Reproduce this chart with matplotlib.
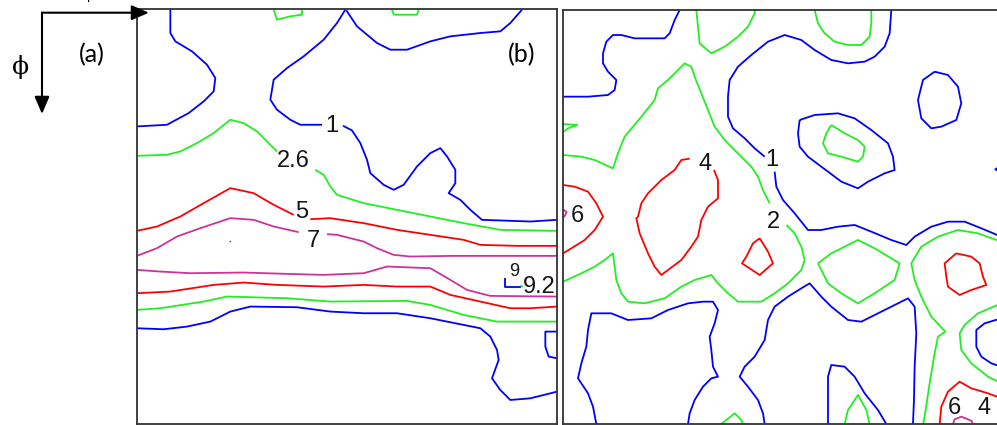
import matplotlib
matplotlib.use("Agg")
import matplotlib.pyplot as plt
from matplotlib.patches import FancyArrowPatch

# ---------------- data (grid units, y grows downward) ----------------
# Panel (a)
A_LEVEL_1 = [
    [(120,28),(120,100),(135,125),(185,155),(230,195),(255,235),(250,275),(220,305),(175,340),(110,375),(20,380)],
    [(645,30),(620,70),(580,120),(520,170),(470,205),(430,240),(420,300),(440,330),(480,360),(510,375),(575,375)],
    [(638,378),(665,392),(690,430),(710,480),(720,520),(760,555),(790,570),(820,555),(860,500),(900,460),(930,445),
     (950,470),(975,510),(975,550),(955,580),(990,600),(1020,630),(1055,660),(1200,665),(1280,660)],
    [(648,32),(680,80),(740,130),(780,150),(830,150),(900,125),(960,110),(1050,100),(1110,95),(1140,70),(1175,30)],
    [(20,985),(100,988),(170,980),(240,965),(300,935),(360,920),(500,922),(600,935),(700,940),(800,940),(900,955),
     (1050,985),(1080,1010),(1100,1050),(1105,1080),(1085,1135),(1110,1170),(1140,1200),(1200,1195),(1280,1175)],
    [(1280,995),(1245,995),(1245,1040),(1255,1070),(1280,1075)],
    [(1125,835),(1125,860),(1172,860)],
    [(299,724),(301,726)],
]
A_LEVEL_26 = [
    [(430,30),(440,60),(480,50),(515,45),(515,30)],
    [(785,30),(790,45),(860,45),(865,30)],
    [(20,468),(110,465),(150,455),(200,430),(250,400),(300,360),(340,370),(380,395),(410,425),(440,455)],
    [(555,510),(580,525),(600,560),(620,585),(700,610),(800,630),(900,650),(1000,670),(1110,690),(1280,693)],
    [(20,930),(90,925),(220,905),(290,890),(470,895),(600,905),(830,903),(900,915),(1000,945),(1100,965),
     (1210,965),(1280,965)],
    [(1170,857),(1178,860)],
]
A_LEVEL_5 = [
    [(20,693),(80,680),(150,650),(220,610),(300,565),(370,580),(430,615),(490,645)],
    [(540,658),(600,655),(700,670),(800,690),(900,705),(1000,720),(1050,735),(1160,738),(1280,738)],
    [(20,880),(120,875),(250,855),(340,848),(440,855),(580,860),(700,855),(800,860),(900,860),(960,885),
     (1050,905),(1140,925),(1200,925),(1280,920)],
]
A_LEVEL_7 = [
    [(20,768),(80,745),(140,710),(210,685),(300,655),(370,660),(430,680),(505,697)],
    [(590,703),(620,705),(700,725),(740,745),(790,765),(840,770),(970,768),(1280,768)],
    [(20,810),(90,815),(180,820),(340,818),(470,822),(580,825),(700,820),(770,800),(900,805),(960,840),
     (1010,870),(1080,888),(1280,890)],
]
A_LABELS = ["1", "2.6", "5", "7", "9", "9.2"]
A_LABEL_X = [603, 490, 515, 550, 1152, 1226]
A_LABEL_Y = [378, 485, 637, 722, 815, 862]

# Panel (b)
B_LEVEL_1 = [
    [(375,30),(360,60),(345,100),(330,115),(240,115),(200,105),(175,105),(155,125),(145,160),(145,190),(160,215),
     (185,240),(180,270),(160,285),(100,290),(25,290)],
    [(1010,30),(1005,100),(990,140),(960,170),(930,185),(880,190),(830,180),(780,150),(740,120),(690,105),(640,125),
     (590,165),(550,200),(525,240),(520,290),(520,350),(535,385),(570,415),(600,445),(630,470)],
    [(660,515),(665,560),(685,600),(720,640),(760,690),(800,690),(850,680),(900,675),(950,695),(1010,720),
     (1055,735),(1080,710),(1130,680),(1180,665),(1230,665),(1280,685),(1340,710)],
    [(735,360),(780,345),(850,340),(900,355),(950,390),(1000,430),(1015,470),(1020,510),(990,520),(940,545),
     (910,565),(860,545),(800,500),(760,470),(735,440),(730,400),(735,360)],
    [(1140,215),(1180,225),(1210,260),(1220,310),(1205,360),(1160,380),(1130,385),(1100,355),(1090,300),
     (1105,240),(1140,215)],
    [(630,1272),(625,1240),(610,1200),(580,1160),(555,1130),(570,1100),(600,1070),(630,1020),(640,960),(660,920),
     (700,890),(740,865),(765,850),(800,890),(830,920),(880,960),(920,965),(980,935),(1060,895),(1080,920),
     (1085,1000),(1080,1100),(1078,1200),(1075,1272)],
    [(125,1272),(115,1220),(100,1180),(70,1135),(80,1090),(95,1040),(100,990),(110,940),(170,940),(220,960),
     (290,955),(340,930),(400,910),(445,905),(475,905),(490,930),(480,970),(465,1010),(470,1050),(475,1100),
     (490,1130),(470,1135),(445,1160),(420,1200),(405,1240),(400,1272)],
    [(995,1272),(970,1230),(930,1180),(900,1130),(870,1100),(830,1095),(820,1130),(820,1200),(820,1272)],
    [(1340,955),(1290,970),(1265,990),(1265,1040),(1280,1070),(1310,1090),(1340,1100)],
    [(1335,500),(1322,508),(1335,516)],
]
B_LEVEL_2 = [
    [(425,30),(430,80),(435,130),(470,160),(510,140),(550,110),(580,80),(600,40),(600,30)],
    [(780,30),(790,70),(810,100),(840,125),(880,135),(920,135),(945,110),(950,70),(950,30)],
    [(830,375),(870,400),(910,420),(930,440),(925,470),(910,485),(860,470),(820,460),(805,430),(815,400),(830,375)],
    [(25,465),(80,470),(120,480),(175,505),(190,460),(210,410),(260,350),(300,300),(310,265),(340,240),(370,210),
     (390,190),(410,200),(420,230),(440,280),(460,330),(480,380),(510,420),(560,470),(590,500),(610,530),
     (625,570),(645,610)],
    [(695,675),(720,700),(740,740),(750,780),(740,810),(700,850),(660,880),(620,905),(550,905),(520,880),
     (490,850),(470,825),(420,840),(380,860),(330,895),(270,910),(220,905),(200,880),(185,840),(175,760),
     (150,780),(120,800),(80,820),(25,845)],
    [(25,372),(68,375),(40,385),(28,395)],
    [(790,790),(830,760),(910,720),(960,745),(1035,790),(1020,840),(960,880),(910,910),(860,880),(820,850),
     (805,820),(790,790)],
    [(1340,725),(1270,700),(1210,690),(1150,710),(1100,740),(1070,790),(1080,840),(1100,890),(1130,950),
     (1172,995),(1150,1010),(1140,1060),(1125,1150),(1110,1250),(1105,1272)],
    [(1340,910),(1270,940),(1230,975),(1215,1000),(1220,1050),(1250,1090),(1300,1130),(1340,1150)],
    [(870,1272),(880,1230),(910,1185),(935,1230),(945,1272)],
    [(500,1272),(540,1240),(560,1260),(565,1272)],
]
B_LEVEL_4 = [
    [(478,510),(490,540),(490,595),(460,620),(440,660),(430,710),(410,740),(380,780),(340,810),(320,825),
     (300,800),(280,760),(255,700),(245,655),(250,650),(260,610),(280,580),(320,540),(360,510),(380,480),(405,476)],
    [(615,715),(595,730),(575,770),(562,790),(615,825),(655,790),(640,755),(615,715)],
    [(1205,760),(1250,770),(1275,790),(1285,830),(1295,855),(1250,870),(1215,885),(1180,860),(1175,830),
     (1170,790),(1205,760)],
    [(1155,1272),(1160,1220),(1180,1175),(1215,1145),(1250,1165),(1300,1180),(1340,1195)],
    [(25,555),(60,560),(100,575),(125,610),(145,650),(120,690),(90,720),(50,745),(25,760)],
]
B_LEVEL_6 = [
    [(25,628),(36,636),(30,648),(25,652)],
    [(1195,1272),(1200,1258),(1220,1250),(1250,1262),(1255,1272)],
]
B_LABELS = ["1", "2", "4", "6", "6", "4"]
B_LABEL_X = [652, 655, 452, 67, 1200, 1287]
B_LABEL_Y = [480, 667, 492, 648, 1225, 1225]

BLUE, GREEN, RED, MAGENTA = "#0000ff", "#22ee22", "#ff0000", "#cc3399"
LABEL_FONT = ["Liberation Sans Narrow", "Liberation Sans", "DejaVu Sans"]

fig = plt.figure(figsize=(9.97, 4.25), dpi=100)

def draw_panel(ax, levels, labels, lx, ly):
    for segs, col in levels:
        for seg in segs:
            xs = [p[0] for p in seg]
            ys = [p[1] for p in seg]
            ax.plot(xs, ys, color=col, lw=1.3, solid_capstyle="butt")
    for t, x, y in zip(labels, lx, ly):
        fs = 13 if t == "9" else 17
        ax.text(x, y, t, ha="center", va="center", fontsize=fs,
                family=LABEL_FONT, color="#151515")
    ax.set_xticks([])
    ax.set_yticks([])
    for s in ax.spines.values():
        s.set_color("#333333")
        s.set_linewidth(1.3)

axa = fig.add_axes([137/997, 1/425, 420/997, 415/425])
axa.set_xlim(20, 1280)
axa.set_ylim(1272, 28)
draw_panel(axa, [(A_LEVEL_1, BLUE), (A_LEVEL_26, GREEN), (A_LEVEL_5, RED), (A_LEVEL_7, MAGENTA)],
           A_LABELS, A_LABEL_X, A_LABEL_Y)

axb = fig.add_axes([563/997, 1/425, 438.3/997, 414/425])
axb.set_xlim(25, 1340)
axb.set_ylim(1272, 30)
draw_panel(axb, [(B_LEVEL_1, BLUE), (B_LEVEL_2, GREEN), (B_LEVEL_4, RED), (B_LEVEL_6, MAGENTA)],
           B_LABELS, B_LABEL_X, B_LABEL_Y)

# axis-direction arrows
W, H = 997.0, 425.0
def arrow(x0, y0, x1, y1):
    a = FancyArrowPatch((x0/W, 1-y0/H), (x1/W, 1-y1/H), transform=fig.transFigure,
                        arrowstyle="-|>,head_length=0.7,head_width=0.3", mutation_scale=15,
                        color="black", lw=1.5, shrinkA=0, shrinkB=0)
    fig.add_artist(a)

arrow(42, 12.7, 149, 12.7)
arrow(42, 12.7, 42, 114)

fig.text(21/W, 1-67/H, "ϕ", family=["DejaVu Serif", "Liberation Serif"], fontsize=18,
         ha="center", va="center")
fig.text(88/W, 1+3/H, "ψ", family=["Liberation Serif", "DejaVu Serif"], fontsize=15,
         ha="center", va="baseline")
fig.text(92/W, 1-55/H, "(a)", family=["Lato", "Open Sans"], fontsize=18, ha="center", va="center")
fig.text(522/W, 1-55/H, "(b)", family=["Lato", "Open Sans"], fontsize=18, ha="center", va="center")

fig.savefig("out.png", dpi=100)
